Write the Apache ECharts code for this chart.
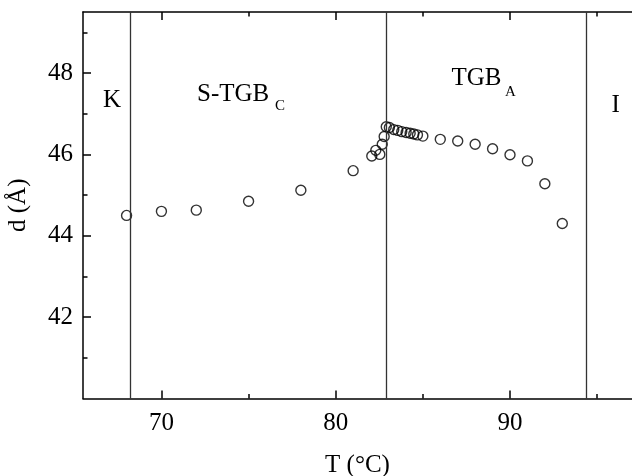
<!DOCTYPE html>
<html>
<head>
<meta charset="utf-8">
<script src="https://cdn.jsdelivr.net/npm/echarts@6/dist/echarts.min.js"></script>
<style>
html,body{margin:0;padding:0;background:#fff;}
#chart{width:632px;height:476px;}
</style>
</head>
<body>
<div id="chart"></div>
<script>
// Data
const temperature = [68, 70, 72, 75, 78, 81, 82.07, 82.3, 82.53, 82.67, 82.78, 82.9, 83.08, 83.33, 83.56, 83.79, 84.04, 84.27, 84.48, 84.69, 85.0, 86, 87, 88, 89, 90, 91, 92, 93];
const spacing = [44.5, 44.6, 44.63, 44.85, 45.12, 45.6, 45.96, 46.1, 46.0, 46.25, 46.44, 46.68, 46.66, 46.61, 46.59, 46.56, 46.54, 46.52, 46.5, 46.48, 46.45, 46.37, 46.33, 46.25, 46.14, 45.99, 45.84, 45.28, 44.3];
const phaseBoundaries = [68.2, 82.9, 94.35];
const xMajorTicks = [70, 80, 90];
const xMinorTicks = [75, 85, 95];
const yMajorTicks = [42, 44, 46, 48];
const yMinorTicks = [41, 43, 45, 47, 49];
const xRange = [65.5, 97];
const yRange = [40, 49.5];

const FONT = '"Liberation Serif", "Times New Roman", serif';
const chart = echarts.init(document.getElementById('chart'), null, {renderer: 'canvas'});
const gridRect = {left: 83, right: 0, top: 12, bottom: 77.5, containLabel: false, outerBoundsMode: 'none'};
const lineStyle = {color: '#000', width: 1.5};

function xAx(grid, pos, ticks, len, withLine, withLabel) {
  const a = {
    type: 'value', gridIndex: grid, position: pos, min: xRange[0], max: xRange[1],
    axisLine: {show: withLine, onZero: false, lineStyle: lineStyle},
    axisTick: {show: true, inside: true, length: len, customValues: ticks, lineStyle: lineStyle},
    axisLabel: {show: withLabel, customValues: ticks, margin: 12, fontSize: 25, fontFamily: FONT, color: '#000'},
    splitLine: {show: false}
  };
  if (withLabel) {
    a.name = 'T (°C)';
    a.nameLocation = 'middle';
    a.nameGap = 54;
    a.nameTextStyle = {fontSize: 25, fontFamily: FONT, color: '#000'};
  }
  return a;
}
function yAx(grid, ticks, len, withLine, withLabel) {
  const a = {
    type: 'value', gridIndex: grid, position: 'left', min: yRange[0], max: yRange[1],
    axisLine: {show: withLine, onZero: false, lineStyle: lineStyle},
    axisTick: {show: true, inside: true, length: len, customValues: ticks, lineStyle: lineStyle},
    axisLabel: {show: withLabel, customValues: ticks, margin: 10, fontSize: 25, fontFamily: FONT, color: '#000'},
    splitLine: {show: false}
  };
  if (withLabel) {
    a.name = 'd (Å)';
    a.nameLocation = 'middle';
    a.nameGap = 52;
    a.nameTextStyle = {fontSize: 25, fontFamily: FONT, color: '#000'};
  }
  return a;
}

const points = temperature.map((t, i) => [t, spacing[i]]);

function txt(text, x, y, size) {
  return {type: 'text', x: x, y: y, silent: true, z: 10,
    style: {text: text, font: size + 'px ' + FONT, fill: '#000', textAlign: 'left', textVerticalAlign: 'middle'}};
}

chart.setOption({
  backgroundColor: '#fff',
  animation: false,
  grid: [Object.assign({}, gridRect), Object.assign({}, gridRect)],
  xAxis: [
    xAx(0, 'bottom', xMajorTicks, 8, true, true),
    xAx(0, 'top', xMajorTicks, 8, true, false),
    xAx(1, 'bottom', xMinorTicks, 4.5, false, false),
    xAx(1, 'top', xMinorTicks, 4.5, false, false)
  ],
  yAxis: [
    yAx(0, yMajorTicks, 8, true, true),
    yAx(1, yMinorTicks, 4.5, false, false)
  ],
  series: [{
    type: 'scatter', xAxisIndex: 0, yAxisIndex: 0,
    data: points,
    symbol: 'circle', symbolSize: 10,
    itemStyle: {color: 'rgba(0,0,0,0)', borderColor: '#000', borderWidth: 1.4},
    markLine: {
      silent: true, symbol: ['none', 'none'], label: {show: false},
      lineStyle: {color: '#333', width: 1.3, type: 'solid'},
      data: phaseBoundaries.map(v => ({xAxis: v}))
    },
    z: 3
  }],
  graphic: [
    txt('K', 103, 100, 25),
    txt('S-TGB', 197, 94, 25),
    txt('C', 275, 106.5, 15),
    txt('TGB', 451.5, 78.5, 25),
    txt('A', 505, 92, 15),
    txt('I', 611.5, 105, 25)
  ]
});
</script>
</body>
</html>
